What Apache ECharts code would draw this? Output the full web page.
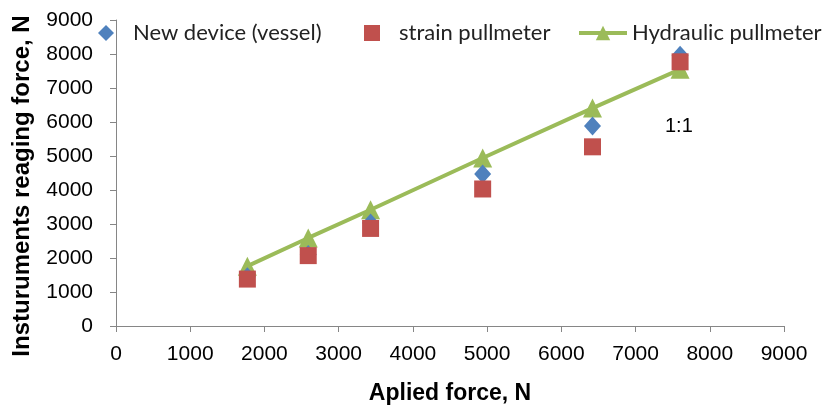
<!DOCTYPE html>
<html><head><meta charset="utf-8">
<script src="https://cdn.jsdelivr.net/npm/echarts@6/dist/echarts.min.js"></script>
<style>html,body{margin:0;padding:0;background:#fff}#c{width:825px;height:407px}</style>
</head><body><div id="c"></div>
<script>
const appliedForce = [1770, 2590, 3430, 4940, 6420, 7600];
const newDevice = [1450, 2100, 3030, 4470, 5880, 7960];
const strainPull = [1380, 2070, 2870, 4030, 5270, 7770];
const hydraulicPull = [1760, 2590, 3420, 4940, 6410, 7550];
const tickValues = [0, 1000, 2000, 3000, 4000, 5000, 6000, 7000, 8000, 9000];

const pairs = ys => appliedForce.map((x, i) => [x, ys[i]]);
const chart = echarts.init(document.getElementById('c'));
const axisCol = '#868686';
const fontF = 'Liberation Sans, Arial, sans-serif';
const legFont = 'Lato, sans-serif';
const legText = {fontFamily: legFont, fontSize: 22, color: '#222'};
chart.setOption({
  animation: false,
  grid: {left: 116, right: 41, top: 20, bottom: 81, outerBoundsMode: 'none', containLabel: false},
  legend: [
    {data: ['New device (vessel)'], left: 98, top: 22, padding: 0, itemWidth: 16, itemHeight: 16,
     textStyle: Object.assign({padding: [0, 0, 0, 14]}, legText)},
    {data: ['strain pullmeter'], left: 364, top: 22, padding: 0, itemWidth: 16, itemHeight: 16,
     textStyle: Object.assign({padding: [0, 0, 0, 14]}, legText)},
    {data: ['Hydraulic pullmeter'], left: 577, top: 22, padding: 0, itemWidth: 48, itemHeight: 18,
     lineStyle: {width: 4},
     textStyle: Object.assign({padding: [0, 0, 0, 0]}, legText)}
  ],
  xAxis: {
    type: 'value', min: 0, max: 9000, interval: 1000,
    name: 'Aplied force, N', nameLocation: 'middle', nameGap: 56,
    nameTextStyle: {fontFamily: fontF, fontSize: 23, fontWeight: 'bold', color: '#000'},
    axisLine: {show: true, lineStyle: {color: axisCol, width: 1}},
    axisTick: {show: true, length: 6, lineStyle: {color: axisCol}},
    axisLabel: {fontFamily: fontF, fontSize: 21, color: '#000', margin: 18,
      formatter: v => tickValues.includes(v) ? String(v) : ''},
    splitLine: {show: false}
  },
  yAxis: {
    type: 'value', min: 0, max: 9000, interval: 1000,
    name: 'Insturuments reaging force, N', nameLocation: 'middle', nameGap: 82,
    nameTextStyle: {fontFamily: fontF, fontSize: 24, fontWeight: 'bold', color: '#000', padding: [0, 26, 0, 0]},
    axisLine: {show: true, lineStyle: {color: axisCol, width: 1}},
    axisTick: {show: true, length: 6, lineStyle: {color: axisCol}},
    axisLabel: {fontFamily: fontF, fontSize: 21, color: '#000', margin: 23,
      formatter: v => tickValues.includes(v) ? String(v) : ''},
    splitLine: {show: false}
  },
  series: [
    {name: 'Hydraulic pullmeter', type: 'line', data: pairs(hydraulicPull), z: 2,
     symbol: 'triangle', symbolSize: 19, showAllSymbol: true,
     lineStyle: {color: '#9BBB59', width: 4}, itemStyle: {color: '#9BBB59'}},
    {name: 'New device (vessel)', type: 'scatter', data: pairs(newDevice), z: 3,
     symbol: 'diamond', symbolSize: [17, 19], itemStyle: {color: '#4F81BD', opacity: 1}},
    {name: 'strain pullmeter', type: 'scatter', data: pairs(strainPull), z: 4,
     symbol: 'rect', symbolSize: 17, itemStyle: {color: '#C0504D', opacity: 1}}
  ],
  graphic: [
    {type: 'text', left: 665, top: 116, style: {text: '1:1', fontFamily: fontF, fontSize: 20, fill: '#000'}}
  ]
});
</script></body></html>
